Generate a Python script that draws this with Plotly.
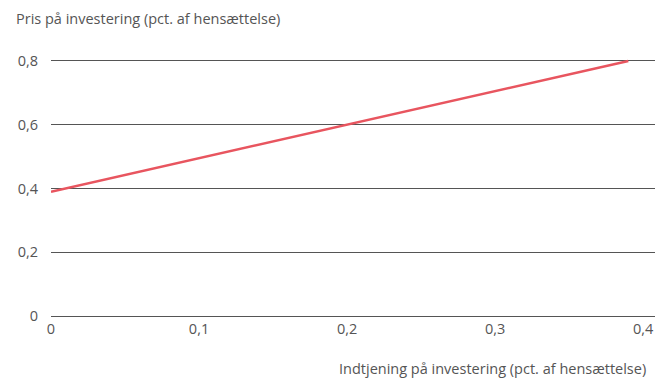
import plotly.graph_objects as go

x_vals = [0.0, 0.39]
y_vals = [0.39, 0.8]
x_tickvals = [0, 0.1, 0.2, 0.3, 0.4]
x_ticktext = ["0", "0,1", "0,2", "0,3", "0,4"]
y_tickvals = [0, 0.2, 0.4, 0.6, 0.8]
y_ticktext = ["0", "0,2", "0,4", "0,6", "0,8"]
y_title = "Pris på investering (pct. af hensættelse)"
x_title = "Indtjening på investering (pct. af hensættelse)"

FONT = "Open Sans, Noto Sans, sans-serif"
GRAY = "#555555"
FS = 14.5

fig = go.Figure()
fig.add_trace(go.Scatter(x=x_vals, y=y_vals, mode="lines",
                         line=dict(color="#E8555F", width=2.5),
                         showlegend=False, hoverinfo="skip", cliponaxis=False))

fig.update_layout(
    width=657, height=380,
    margin=dict(l=51, r=2, t=59, b=62),
    paper_bgcolor="white", plot_bgcolor="white",
    font=dict(family=FONT, size=FS, color=GRAY),
    xaxis=dict(range=[0, 0.408], tickvals=x_tickvals, ticktext=x_ticktext,
               showgrid=False, zeroline=False, showline=False,
               ticks="", ticklen=0, tickfont=dict(size=FS, color=GRAY),
               fixedrange=True),
    yaxis=dict(range=[-0.006, 0.806], tickvals=y_tickvals, ticktext=y_ticktext,
               showgrid=True, gridcolor=GRAY, gridwidth=1,
               zeroline=False, showline=False, ticks="",
               ticklabelstandoff=12,
               tickfont=dict(size=FS, color=GRAY), fixedrange=True),
    annotations=[
        dict(text=y_title, xref="paper", yref="paper", x=0, y=1,
             xanchor="left", yanchor="middle", xshift=-37, yshift=41,
             showarrow=False, font=dict(size=FS, color=GRAY)),
        dict(text=x_title, xref="paper", yref="paper", x=1, y=0,
             xanchor="right", yanchor="middle", xshift=-7, yshift=-50,
             showarrow=False, font=dict(size=FS, color=GRAY)),
    ],
)

fig.write_html("out.html")
